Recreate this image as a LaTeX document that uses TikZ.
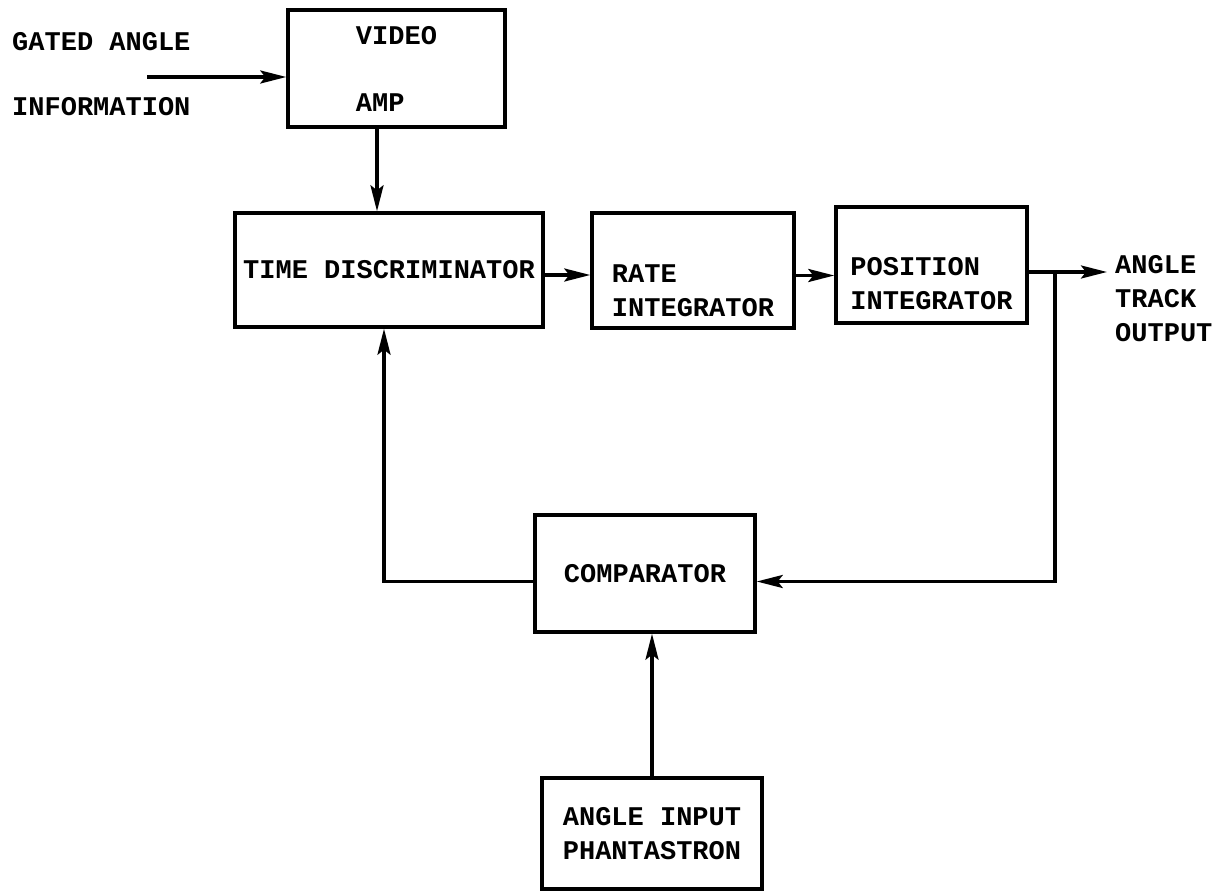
\documentclass[tikz,border=0pt]{standalone}
\usepackage{fontspec}
\setmonofont{Liberation Mono}
\usetikzlibrary{arrows.meta, positioning, calc}

\begin{document}
\begin{tikzpicture}[x=1pt, y=-1pt,
    blk/.style={draw, line width=3.4pt, inner sep=0pt, font=\ttfamily\bfseries\fontsize{27}{34}\selectfont},
    txt/.style={inner sep=0pt, font=\ttfamily\bfseries\fontsize{27}{34}\selectfont},
    wire/.style={line width=3.4pt},
    >={Stealth[length=26pt, width=13pt, inset=5pt]}]
    \useasboundingbox (0,0) rectangle (1220,893);

    % Video amp
    \node[blk, minimum width=217pt, minimum height=117pt, align=left] (vid) at (396.5,68.5) {VIDEO\\[33pt]AMP};

    % Time discriminator
    \node[blk, minimum width=308pt, minimum height=114pt] (disc) at (389,270) {TIME DISCRIMINATOR};

    % Integrateurs
    \node[blk, minimum width=202pt, minimum height=115pt] (rate) at (693,270.5) {};
    \node[txt, align=left] (ratetxt) at ([yshift=-20pt]rate.center) {RATE\\INTEGRATOR};
    \node[blk, minimum width=191pt, minimum height=116pt] (pos) at (931.5,265) {};
    \node[txt, align=left] (postxt) at ([yshift=-19pt]pos.center) {POSITION\\INTEGRATOR};

    % Comparator + phantastron
    \node[blk, minimum width=220pt, minimum height=117pt] (comp) at (645,573.5) {COMPARATOR};
    \node[blk, minimum width=220pt, minimum height=111pt, align=center] (phan) at (652,833.5) {ANGLE INPUT\\PHANTASTRON};

    % Entree / sortie
    \node[txt, align=left, anchor=west] (gated) at (12,74.5) {GATED ANGLE\\[31pt]INFORMATION};
    \node[txt, align=left, anchor=west] (track) at (1115,299) {ANGLE\\TRACK\\OUTPUT};
    \coordinate (inp) at (147,77);
    \coordinate (out) at (1107,272);
    \coordinate (tap) at (1055,272);

    % Chaine directe
    \draw[wire, ->] (inp) -- (inp -| vid.west);
    \draw[wire, ->] ([xshift=-19.5pt]vid.south) -- ([xshift=-19.5pt]vid.south |- disc.north);
    \draw[wire, ->] ([yshift=-5pt]disc.east) -- ([yshift=-5pt]disc.east -| rate.west);
    \draw[wire, ->] ([yshift=-5pt]rate.east) -- ([yshift=-5pt]rate.east -| pos.west);
    \draw[wire, ->] (pos.east |- out) -- (out);

    % Boucle de retour
    \draw[wire, ->] (tap) |- ([yshift=-8pt]comp.east);
    \draw[wire, ->] ([yshift=-8pt]comp.west) -| ([xshift=-5pt]disc.south);
    \draw[wire, ->] (phan.north) -- (phan.north |- comp.south);
\end{tikzpicture}
\end{document}
